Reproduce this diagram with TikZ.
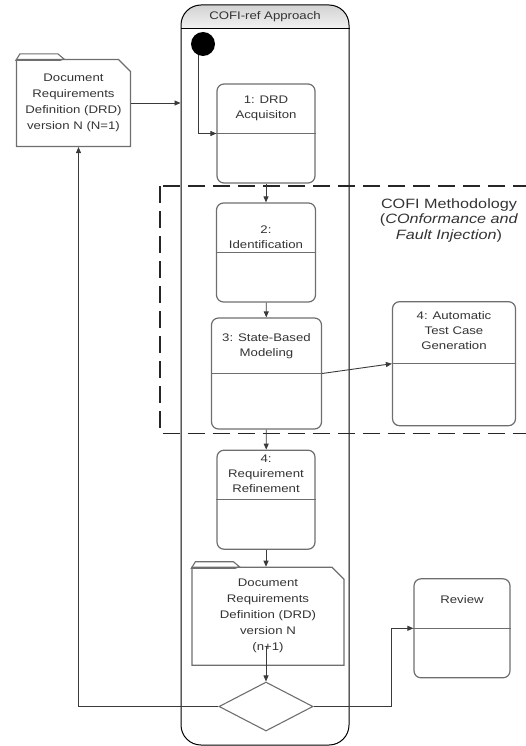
\documentclass[tikz,border=0pt]{standalone}
\usepackage{fontspec}
\setmainfont[FakeStretch=1.2]{Liberation Sans}
\usepackage{xcolor}
\usetikzlibrary{arrows.meta,shapes.geometric,shapes.misc}
\definecolor{boxline}{HTML}{6E6E6E}
\definecolor{conn}{HTML}{3A3A3A}
\definecolor{txt}{HTML}{333333}
% text set in the upper compartment of an activity box
\newcommand{\toptext}[2]{\raisebox{#1}[0pt][0pt]{\begin{tabular}{@{}c@{}}#2\end{tabular}}}

\begin{document}
\begin{tikzpicture}[
  x=1pt,y=-1pt,
  every node/.style={font=\fontsize{11}{15}\selectfont,text=txt},
  state/.style={draw=boxline,line width=1.2pt,rounded corners=7pt,inner sep=0pt},
  doc/.style={chamfered rectangle,chamfered rectangle corners=north east,chamfered rectangle sep=6pt,draw=boxline,line width=1.2pt,align=center,inner sep=0pt,font=\fontsize{11}{16}\selectfont},
  decision/.style={diamond,draw=boxline,line width=1.1pt,minimum width=94,minimum height=49,inner sep=0pt},
  arrow/.style={-{Triangle[length=6pt,width=5pt]},draw=conn,line width=0.9pt},
  frame/.style={dash pattern=on 17pt off 8pt,line width=1.3pt,draw=black!85},
]
\useasboundingbox (0,0) rectangle (525,746);

% swimlane with shaded header
\begin{scope}
\clip[rounded corners=20pt] (181,5) rectangle (349,745);
\shade[top color=gray!35,bottom color=gray!10] (181,5) rectangle (349,29);
\end{scope}
\node[draw=black,line width=1pt,rounded corners=20pt,minimum width=168,minimum height=740,inner sep=0pt] (lane) at (265,375) {};
\draw[black,line width=1pt] ([yshift=-24pt]lane.north west) -- ([yshift=-24pt]lane.north east);
\node (hd) at (265,17) {COFI-ref Approach};

\node[circle,fill=black,minimum size=24,inner sep=0pt] (dot) at (203,44) {};

\node[state,minimum width=98,minimum height=99] (s1) at (266,133.5) {\toptext{23pt}{1: DRD\\Acquisiton}};
\node[state,minimum width=99,minimum height=99] (s2) at (266,252.5) {\toptext{12pt}{2:\\Identification}};
\node[state,minimum width=110,minimum height=111] (s3) at (266.5,373.5) {\toptext{24.5pt}{3: State-Based\\Modeling}};
\node[state,minimum width=123,minimum height=124] (s4) at (454,363.7) {\toptext{29pt}{4: Automatic\\Test Case\\Generation}};
\node[state,minimum width=98,minimum height=99] (s5) at (266,499.7) {\toptext{22pt}{4:\\Requirement\\Refinement}};
\node[state,minimum width=96,minimum height=99] (rev) at (462,628.3) {\toptext{25.5pt}{Review}};
\foreach \n in {s1,s2,s3,s4,s5,rev}
  \draw[boxline,line width=1.1pt] (\n.west) -- (\n.east);

\node[doc,minimum width=114,minimum height=87] (doc1) at (73.5,103) {Document\\Requirements\\Definition (DRD)\\version N (N=1)};
\node[doc,minimum width=152,minimum height=98] (doc2) at (268,616.3) {Document\\Requirements\\Definition (DRD)\\version N\\(n+1)};
\foreach \d in {doc1,doc2}
  \draw[boxline,line width=1.1pt] ([yshift=-1.5pt]\d.north west) -- ([xshift=4pt,yshift=5pt]\d.north west)
    -- ([xshift=42pt,yshift=5pt]\d.north west) -- ([xshift=48pt]\d.north west)
    -- ([xshift=44pt,yshift=-1.5pt]\d.north west) -- cycle;

\node[decision] (dia) at (266,706.5) {};

% COFI methodology frame
\draw[frame] (160,186) rectangle (535,433.5);
\node[font=\fontsize{13.5}{15.5}\selectfont,align=center] (cofi) at (449,220.5)
  {COFI Methodology\\(\textit{COnformance and}\\\textit{Fault Injection})};

\draw[arrow] (dot.250) |- (s1.west);
\draw[arrow] (doc1.east) -- (doc1.east -| lane.west);
\draw[arrow] (s1) -- (s2);
\draw[arrow] (s2) -- (s3);
\draw[arrow] (s3.east) -- (s4.west);
\draw[arrow] (s3) -- (s5);
\draw[arrow] (s5) -- (doc2.north -| s5);
\draw[arrow] ([yshift=20pt]doc2.south -| dia) -- (dia.north);
\draw[arrow] (dia.west) -| ([xshift=5pt]doc1.south);
\draw[arrow] (dia.east) -- ++(78,0) |- (rev.west);
\end{tikzpicture}
\end{document}
